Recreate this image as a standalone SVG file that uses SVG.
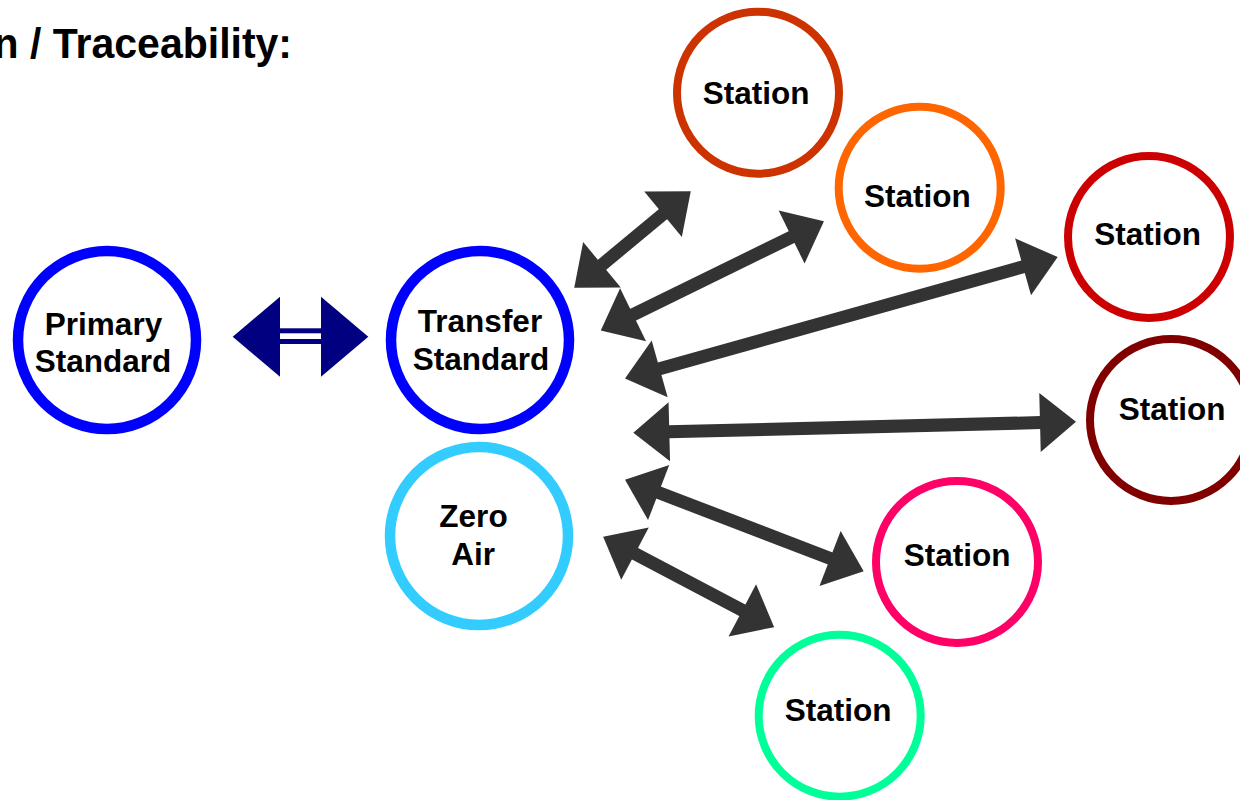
<svg xmlns="http://www.w3.org/2000/svg" width="1240" height="800" viewBox="0 0 1240 800">
  <defs>
    <style>
      .lbl { font-family: "Liberation Sans", Arial, Helvetica, sans-serif; font-weight: bold; font-size: 31.5px; fill: #000; text-anchor: middle; }
      .title { font-family: "Liberation Sans", Arial, Helvetica, sans-serif; font-weight: bold; font-size: 41px; fill: #000; text-anchor: end; }
      .std { fill: #fff; stroke-width: 10.5; }
      .stn { fill: #fff; stroke-width: 8; }
      .link { stroke: #333333; stroke-width: 13; fill: none; marker-start: url(#head); marker-end: url(#head); }
    </style>
    <!-- block arrowhead: base at the line end, tip 35px further on -->
    <marker id="head" markerUnits="userSpaceOnUse" viewBox="0 -30 36 60" refX="0" refY="0"
            markerWidth="36" markerHeight="60" orient="auto-start-reverse" overflow="visible">
      <path d="M-1,-29.5 L35,0 L-1,29.5 Z" fill="#333333"/>
    </marker>
  </defs>

  <rect width="1240" height="800" fill="#fff"/>

  <text class="title" transform="translate(292,57.7) scale(1,1.06)">n / Traceability:</text>

  <!-- equivalence symbol between primary and transfer standards -->
  <g id="equivalence" fill="#000080">
    <polygon points="232.7,336.7 280,296.7 280,376.7"/>
    <polygon points="321,296.7 368.3,336.7 321,376.7"/>
    <rect x="279" y="328.3" width="43" height="5"/>
    <rect x="279" y="339" width="43" height="5"/>
  </g>

  <g id="connectors">
    <line class="link" x1="601.2" y1="265.4" x2="663.8" y2="213.6"/>
    <line class="link" x1="632.2" y1="315.1" x2="792.5" y2="236.6"/>
    <line class="link" x1="658.7" y1="369.1" x2="1024" y2="266.5"/>
    <line class="link" x1="668.3" y1="431.85" x2="1041" y2="422.55"/>
    <line class="link" x1="657.7" y1="492.2" x2="831" y2="558.8"/>
    <line class="link" x1="634.1" y1="553.2" x2="743.2" y2="610.8"/>
  </g>

  <g id="primary-standard">
    <circle class="std" cx="107" cy="340" r="89" stroke="#0000ff"/>
    <text class="lbl" x="103.5" y="334.5">Primary</text>
    <text class="lbl" x="103" y="372">Standard</text>
  </g>

  <g id="transfer-standard">
    <circle class="std" cx="480" cy="340" r="89" stroke="#0000ff"/>
    <text class="lbl" x="480" y="332">Transfer</text>
    <text class="lbl" x="481" y="370">Standard</text>
  </g>

  <g id="zero-air">
    <circle class="std" cx="479" cy="536" r="89" stroke="#33ccff"/>
    <text class="lbl" x="473.5" y="527">Zero</text>
    <text class="lbl" x="473.2" y="564.5">Air</text>
  </g>

  <g id="station-1">
    <circle class="stn" cx="758" cy="92.7" r="81" stroke="#cc3300"/>
    <text class="lbl" x="756" y="103.5">Station</text>
  </g>

  <g id="station-2">
    <circle class="stn" cx="919.7" cy="187.8" r="81" stroke="#ff6600"/>
    <text class="lbl" x="917.3" y="206.7">Station</text>
  </g>

  <g id="station-3">
    <circle class="stn" cx="1149" cy="237" r="81" stroke="#cc0000"/>
    <text class="lbl" x="1147.5" y="245">Station</text>
  </g>

  <g id="station-4">
    <circle class="stn" cx="1171" cy="420" r="81" stroke="#800000"/>
    <text class="lbl" x="1172" y="420">Station</text>
  </g>

  <g id="station-5">
    <circle class="stn" cx="957" cy="562" r="81" stroke="#ff0066"/>
    <text class="lbl" x="957" y="566">Station</text>
  </g>

  <g id="station-6">
    <circle class="stn" cx="839.7" cy="715.7" r="81" stroke="#00ff99"/>
    <text class="lbl" x="838" y="720.7">Station</text>
  </g>
</svg>
